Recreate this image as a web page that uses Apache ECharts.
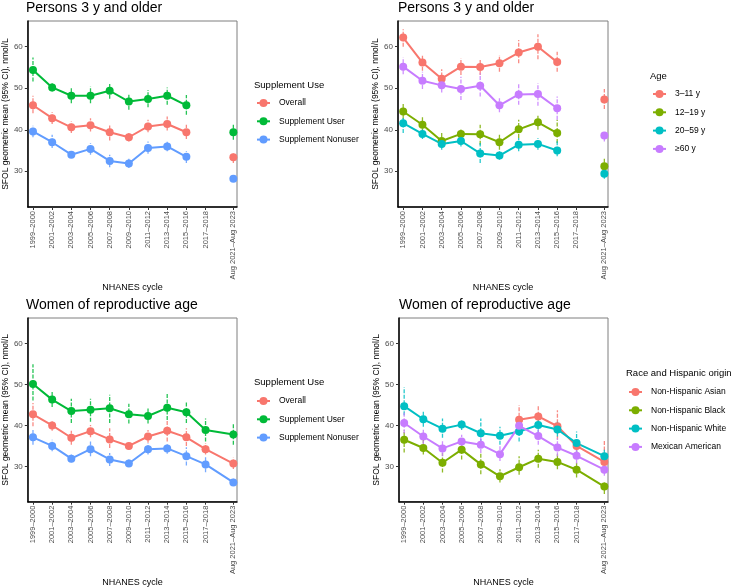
<!DOCTYPE html>
<html>
<head>
<meta charset="utf-8">
<script src="https://cdn.jsdelivr.net/npm/echarts@6/dist/echarts.min.js"></script>
<style>
html,body{margin:0;padding:0;background:#fff;}
#chart{width:733px;height:588px;}
</style>
</head>
<body>
<div id="chart"></div>
<script>
// ---- categories / tick labels ----
const cycles = ['1999–2000','2001–2002','2003–2004','2005–2006','2007–2008','2009–2010','2011–2012','2013–2014','2015–2016','2017–2018','Aug 2021–Aug 2023'];
const cycleX = [0,1,2,3,4,5,6,7,8,9,10.45];
const yTicks = [30,40,50,60];

// ---- Panel 1: Persons 3 y and older, by supplement use ----
const p1OverallMean = [45.9,42.8,40.6,41.1,39.4,38.2,40.8,41.4,39.4,null,33.4];
const p1OverallLo   = [44.0,41.4,39.2,39.6,37.4,37.2,39.4,39.8,37.8,null,32.0];
const p1OverallHi   = [48.2,44.2,42.0,42.8,41.4,39.2,42.4,43.2,41.2,null,34.6];
const p1UserMean    = [54.4,50.2,48.2,48.2,49.4,46.8,47.4,48.2,45.9,null,39.4];
const p1UserLo      = [51.6,49.2,46.4,46.4,47.5,44.8,45.4,46.0,43.6,null,37.6];
const p1UserHi      = [57.4,51.2,50.2,50.4,51.0,48.6,49.6,50.2,48.4,null,41.2];
const p1NonMean     = [39.6,37.0,34.0,35.4,32.5,31.9,35.6,36.0,33.5,null,28.2];
const p1NonLo       = [38.2,35.6,33.2,34.0,31.0,30.8,34.2,34.8,32.0,null,27.4];
const p1NonHi       = [41.0,38.8,34.8,36.8,34.0,33.0,37.2,37.2,34.8,null,28.8];

// ---- Panel 2: Persons 3 y and older, by age ----
const p2A3Mean  = [62.2,56.2,52.3,55.2,55.1,56.0,58.6,60.0,56.3,null,47.3];
const p2A3Lo    = [60.0,54.2,50.2,53.2,53.2,54.0,56.0,57.0,54.0,null,45.0];
const p2A3Hi    = [64.2,58.0,54.6,57.2,56.8,58.0,61.6,63.0,58.8,null,49.8];
const p2A12Mean = [44.4,41.2,37.3,39.0,38.9,37.0,40.1,41.8,39.2,null,31.2];
const p2A12Lo   = [42.6,39.4,35.6,37.8,36.4,35.2,38.0,40.0,36.8,null,29.4];
const p2A12Hi   = [46.4,43.2,39.2,40.2,41.2,38.8,42.4,43.4,42.4,null,33.0];
const p2A20Mean = [41.6,39.0,36.6,37.3,34.3,33.8,36.4,36.6,35.0,null,29.4];
const p2A20Lo   = [39.2,37.8,35.2,36.0,32.0,32.8,34.8,35.2,33.6,null,28.2];
const p2A20Hi   = [43.2,40.4,38.0,38.8,36.8,34.8,38.0,38.0,37.6,null,30.6];
const p2A60Mean = [55.2,51.8,50.7,49.8,50.6,45.9,48.5,48.6,45.2,null,38.6];
const p2A60Lo   = [53.4,49.8,49.0,47.2,48.0,44.2,46.0,45.8,42.4,null,37.2];
const p2A60Hi   = [57.4,54.0,52.4,52.8,53.6,47.6,51.2,51.2,48.0,null,39.8];

// ---- Panel 3: Women of reproductive age, by supplement use ----
const p3OverallMean = [42.7,40.0,37.0,38.6,36.6,35.0,37.3,38.7,37.1,34.2,30.7];
const p3OverallLo   = [39.8,38.7,35.3,37.1,34.5,34.2,35.8,36.1,35.0,32.9,29.4];
const p3OverallHi   = [45.5,41.3,38.7,40.1,39.3,35.8,38.9,41.3,39.3,35.7,32.1];
const p3UserMean    = [50.1,46.3,43.5,43.8,44.2,42.7,42.3,44.3,43.2,38.9,37.8];
const p3UserLo      = [46.1,44.5,40.6,40.9,40.6,40.5,40.5,41.3,40.6,36.1,35.3];
const p3UserHi      = [54.9,48.5,46.5,46.5,47.5,45.3,44.5,47.8,45.9,41.7,40.5];
const p3NonMean     = [37.1,35.0,31.9,34.2,31.7,30.7,34.2,34.4,32.5,30.5,26.1];
const p3NonLo       = [35.3,33.7,31.0,32.5,30.1,29.9,32.9,33.1,30.2,28.6,25.3];
const p3NonHi       = [38.9,36.5,32.9,36.1,33.3,31.7,35.7,35.7,34.7,32.5,27.0];

// ---- Panel 4: Women of reproductive age, by race and Hispanic origin ----
const p4AsianMean = [null,null,null,null,null,null,41.4,42.2,39.8,35.0,31.1];
const p4AsianLo   = [null,null,null,null,null,null,38.1,39.7,36.5,33.3,28.5];
const p4AsianHi   = [null,null,null,null,null,null,44.9,44.9,43.7,36.5,36.5];
const p4BlackMean = [36.5,34.5,30.9,34.1,30.5,27.6,29.8,31.9,31.1,29.2,25.1];
const p4BlackLo   = [33.4,32.9,28.5,31.7,28.1,26.1,28.0,29.7,29.3,27.3,23.3];
const p4BlackHi   = [38.9,37.3,33.3,36.1,33.3,29.3,32.5,34.1,33.3,30.9,26.1];
const p4WhiteMean = [44.7,41.5,39.2,40.2,38.1,37.5,38.5,40.1,39.0,35.7,32.5];
const p4WhiteLo   = [42.5,39.7,37.0,38.9,35.7,35.3,36.1,38.1,37.3,32.9,30.7];
const p4WhiteHi   = [49.3,43.7,41.7,41.4,41.7,39.7,40.9,41.7,40.9,38.5,34.1];
const p4MexMean   = [40.6,37.3,34.4,36.1,35.3,33.0,39.9,37.4,34.6,32.6,29.2];
const p4MexLo     = [38.1,35.3,32.5,34.5,33.3,31.3,37.7,35.3,32.5,30.7,27.7];
const p4MexHi     = [43.3,39.3,36.5,37.7,37.3,34.9,42.1,39.7,36.9,34.5,30.9];

// ---- panel definitions (names & colours) ----
const col3 = ['#F8766D','#00BA38','#619CFF'];
const col4 = ['#F8766D','#7CAE00','#00BFC4','#C77CFF'];
const panels = [
  {title:'Persons 3 y and older', legendTitle:'Supplement Use', grid:{left:26,top:21,width:211,height:186},
   legendLeft:256, legendTitleLeft:254, legendTitleTop:80, legendTop:98,
   groups:[
     {name:'Overall', color:col3[0], m:p1OverallMean, lo:p1OverallLo, hi:p1OverallHi},
     {name:'Supplement User', color:col3[1], m:p1UserMean, lo:p1UserLo, hi:p1UserHi},
     {name:'Supplement Nonuser', color:col3[2], m:p1NonMean, lo:p1NonLo, hi:p1NonHi}]},
  {title:'Persons 3 y and older', legendTitle:'Age', grid:{left:398,top:21,width:210,height:186},
   legendLeft:652, legendTitleLeft:650, legendTitleTop:71, legendTop:89,
   groups:[
     {name:'3–11 y', color:col4[0], m:p2A3Mean, lo:p2A3Lo, hi:p2A3Hi},
     {name:'12–19 y', color:col4[1], m:p2A12Mean, lo:p2A12Lo, hi:p2A12Hi},
     {name:'20–59 y', color:col4[2], m:p2A20Mean, lo:p2A20Lo, hi:p2A20Hi},
     {name:'≥60 y', color:col4[3], m:p2A60Mean, lo:p2A60Lo, hi:p2A60Hi}]},
  {title:'Women of reproductive age', legendTitle:'Supplement Use', grid:{left:26,top:318,width:211,height:186},
   legendLeft:256, legendTitleLeft:254, legendTitleTop:377, legendTop:396,
   groups:[
     {name:'Overall ', color:col3[0], m:p3OverallMean, lo:p3OverallLo, hi:p3OverallHi},
     {name:'Supplement User ', color:col3[1], m:p3UserMean, lo:p3UserLo, hi:p3UserHi},
     {name:'Supplement Nonuser ', color:col3[2], m:p3NonMean, lo:p3NonLo, hi:p3NonHi}]},
  {title:'Women of reproductive age', legendTitle:'Race and Hispanic origin', grid:{left:399,top:318,width:209,height:186},
   legendLeft:628, legendTitleLeft:626, legendTitleTop:368, legendTop:387,
   groups:[
     {name:'Non-Hispanic Asian', color:col4[0], m:p4AsianMean, lo:p4AsianLo, hi:p4AsianHi},
     {name:'Non-Hispanic Black', color:col4[1], m:p4BlackMean, lo:p4BlackLo, hi:p4BlackHi},
     {name:'Non-Hispanic White', color:col4[2], m:p4WhiteMean, lo:p4WhiteLo, hi:p4WhiteHi},
     {name:'Mexican American', color:col4[3], m:p4MexMean, lo:p4MexLo, hi:p4MexHi}]}
];

const FONT = 'Liberation Sans, Arial, sans-serif';
const titles = [], grids = [], xAxes = [], yAxes = [], legends = [], series = [];

panels.forEach((p, i) => {
  titles.push({text:p.title, left:p.grid.left, top:p.grid.top - 20, padding:0,
    textStyle:{fontFamily:FONT, fontSize:14, fontWeight:'normal', color:'#000'}});
  titles.push({text:p.legendTitle, left:p.legendTitleLeft, top:p.legendTitleTop, padding:0,
    textStyle:{fontFamily:FONT, fontSize:9.5, fontWeight:'normal', color:'#000'}});
  grids.push(Object.assign({show:true, borderColor:'#7f7f7f', borderWidth:1, backgroundColor:'#fff'}, p.grid));
  xAxes.push({
    type:'value', gridIndex:i, min:-0.27, max:10.64,
    name:'NHANES cycle', nameLocation:'middle', nameGap:72,
    nameTextStyle:{fontFamily:FONT, fontSize:9, color:'#000'},
    axisLine:{show:true, onZero:false, lineStyle:{color:'#000', width:1.5}},
    axisTick:{show:true, length:3, customValues:cycleX, lineStyle:{color:'#333'}},
    axisLabel:{customValues:cycleX, rotate:90, margin:4, fontFamily:FONT, fontSize:7.5, color:'#4d4d4d',
      formatter:(v)=>{ const k = cycleX.indexOf(v); return k>=0 ? cycles[k] : ''; }},
    splitLine:{show:false}
  });
  yAxes.push({
    type:'value', gridIndex:i, min:21.4, max:66.2,
    name:'SFOL geometric mean (95% CI), nmol/L', nameLocation:'middle', nameGap:15,
    nameTextStyle:{fontFamily:FONT, fontSize:8.5, color:'#000'},
    axisLine:{show:true, onZero:false, lineStyle:{color:'#000', width:1.5}},
    axisTick:{show:true, length:3, customValues:yTicks, lineStyle:{color:'#333'}},
    axisLabel:{customValues:yTicks, margin:5, fontFamily:FONT, fontSize:8, color:'#4d4d4d'},
    splitLine:{show:false}
  });
  legends.push({
    orient:'vertical', left:p.legendLeft, top:p.legendTop, padding:0,
    itemWidth:13, itemHeight:10, itemGap:8.3,
    data:p.groups.map(g=>g.name),
    textStyle:{fontFamily:FONT, fontSize:8.5, color:'#000', padding:[0,0,0,4], lineHeight:10},
    selectedMode:false
  });
  p.groups.forEach(g => {
    const bars = [];
    const pts = [];
    cycleX.forEach((x, k) => {
      pts.push([x, g.m[k] == null ? '-' : g.m[k]]);
      if (g.lo[k] != null && g.hi[k] != null) bars.push([x, g.lo[k], g.hi[k]]);
    });
    series.push({
      type:'line', name:g.name, xAxisIndex:i, yAxisIndex:i, z:3,
      data:pts, connectNulls:false, symbol:'circle', symbolSize:8, showSymbol:true,
      color:g.color, itemStyle:{color:g.color}, lineStyle:{color:g.color, width:2},
      emphasis:{disabled:true}
    });
    series.push({
      type:'custom', name:g.name + ' 95% CI', xAxisIndex:i, yAxisIndex:i, z:1, silent:true,
      encode:{x:0, y:[1,2]}, data:bars, itemStyle:{color:g.color},
      renderItem:(params, api) => {
        const a = api.coord([api.value(0), api.value(1)]);
        const b = api.coord([api.value(0), api.value(2)]);
        return {type:'line', shape:{x1:a[0], y1:a[1], x2:b[0], y2:b[1]},
          style:{stroke:g.color, lineWidth:1.3, lineDash:[4,1.5], opacity:0.85}};
      }
    });
  });
});

const chart = echarts.init(document.getElementById('chart'), null, {renderer:'canvas'});
chart.setOption({
  backgroundColor:'#fff',
  animation:false,
  title:titles, grid:grids, xAxis:xAxes, yAxis:yAxes, legend:legends, series:series,
  tooltip:{show:false}
});
</script>
</body>
</html>
